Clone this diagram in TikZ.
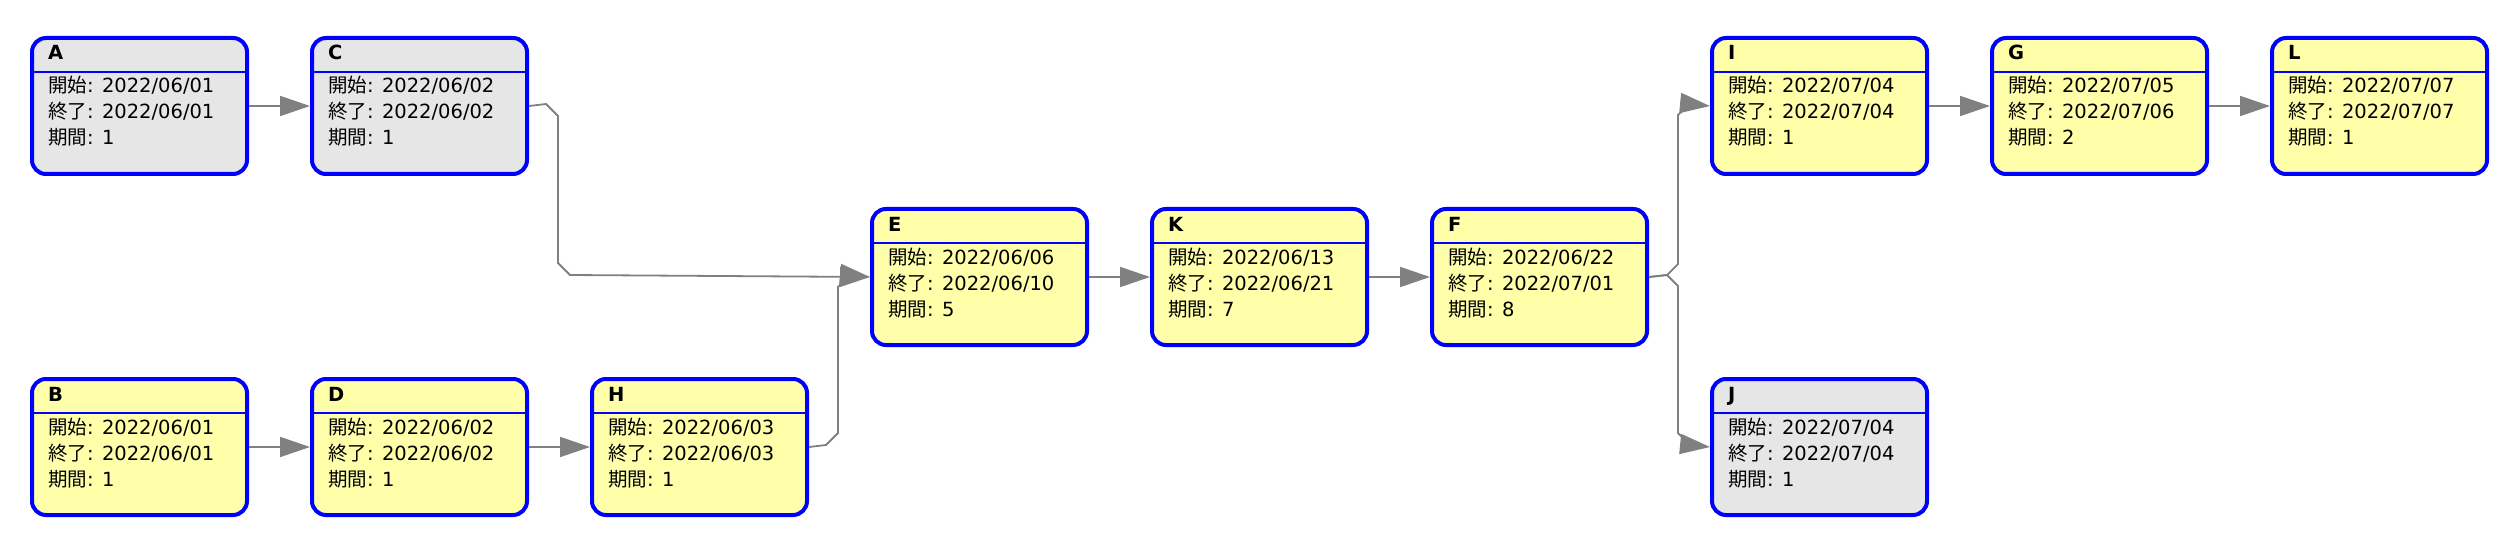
\documentclass[tikz,border=0pt]{standalone}
\usepackage{fontspec}
\setmainfont{DejaVu Sans}
\newfontfamily\cjk{Noto Sans CJK JP}
\usetikzlibrary{arrows.meta}
\definecolor{boxblue}{RGB}{0,0,255}
\definecolor{boxgray}{RGB}{230,230,230}
\definecolor{boxyellow}{RGB}{255,255,170}
\definecolor{arrgray}{RGB}{128,128,128}
\tikzset{
  task/.style={rectangle, rounded corners=14pt, draw=boxblue, line width=4pt,
    minimum width=215pt, minimum height=136pt, inner sep=0pt},
  hdr/.style={draw=boxblue, line width=1.6pt},
  ttl/.style={inner sep=0pt, font=\fontsize{19.5}{22}\selectfont\bfseries},
  txt/.style={inner sep=0pt, font=\fontsize{19.5}{22}\selectfont},
  conn/.style={draw=arrgray, line width=1.8pt, -{Triangle[length=30pt,width=20pt]}}
}
\newcommand\tasknode[8]{%
  \node[task, fill=#4, anchor=north west] (#1) at (#2+2,#3+2) {};
  \draw[hdr] ([yshift=-36pt]#1.north west) -- ([yshift=-36pt]#1.north east);
  \node[ttl, anchor=base west] (#1-t) at (#2+20,#3+26) {#5};
  \node[txt, anchor=base west] (#1-s) at (#2+20,#3+59) {{\cjk 開始}: #6};
  \node[txt, anchor=base west] (#1-e) at (#2+20,#3+85) {{\cjk 終了}: #7};
  \node[txt, anchor=base west] (#1-d) at (#2+20,#3+111) {{\cjk 期間}: #8};
}
\begin{document}
\begin{tikzpicture}[x=1pt,y=-1pt]
\fill[white] (0,0) rectangle (2502,548);
\useasboundingbox (0,0) rectangle (2502,548);

\tasknode{A}{28}{34}{boxgray}{A}{2022/06/01}{2022/06/01}{1}
\tasknode{C}{308}{34}{boxgray}{C}{2022/06/02}{2022/06/02}{1}
\tasknode{B}{28}{375}{boxyellow}{B}{2022/06/01}{2022/06/01}{1}
\tasknode{D}{308}{375}{boxyellow}{D}{2022/06/02}{2022/06/02}{1}
\tasknode{H}{588}{375}{boxyellow}{H}{2022/06/03}{2022/06/03}{1}
\tasknode{E}{868}{205}{boxyellow}{E}{2022/06/06}{2022/06/10}{5}
\tasknode{K}{1148}{205}{boxyellow}{K}{2022/06/13}{2022/06/21}{7}
\tasknode{F}{1428}{205}{boxyellow}{F}{2022/06/22}{2022/07/01}{8}
\tasknode{I}{1708}{34}{boxyellow}{I}{2022/07/04}{2022/07/04}{1}
\tasknode{G}{1988}{34}{boxyellow}{G}{2022/07/05}{2022/07/06}{2}
\tasknode{L}{2268}{34}{boxyellow}{L}{2022/07/07}{2022/07/07}{1}
\tasknode{J}{1708}{375}{boxgray}{J}{2022/07/04}{2022/07/04}{1}

\draw[conn] (A.east) -- (C.west);
\draw[conn] (B.east) -- (D.west);
\draw[conn] (D.east) -- (H.west);
\draw[conn] (E.east) -- (K.west);
\draw[conn] (K.east) -- (F.west);
\draw[conn] (I.east) -- (G.west);
\draw[conn] (G.east) -- (L.west);
\draw[conn] (C.east) -- (546,104) -- (558,116) -- (558,263) -- (570,275) -- (E.west);
\draw[conn] (H.east) -- (826,445) -- (838,433) -- (838,287) -- (850,275) -- (E.west);
\draw[conn] (F.east) -- (1667,275) -- (1678,264) -- (1678,115) -- (1690,104) -- (I.west);
\draw[conn] (F.east) -- (1667,275) -- (1678,286) -- (1678,433) -- (1690,445) -- (J.west);
\end{tikzpicture}
\end{document}
